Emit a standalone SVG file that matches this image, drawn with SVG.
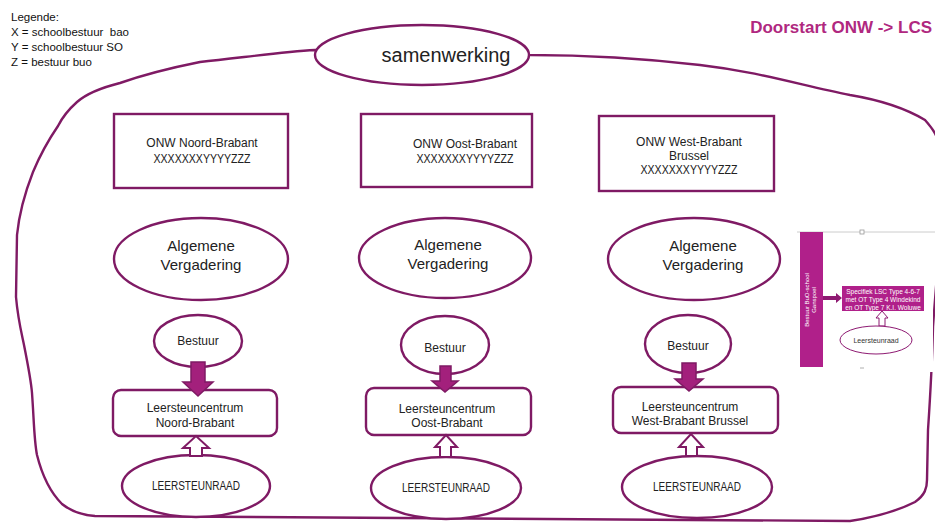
<svg xmlns="http://www.w3.org/2000/svg" width="935" height="523" viewBox="0 0 935 523">
<style>
.ol{fill:#fff;stroke:#7f1a64;stroke-width:2.4}
.t{font-family:"Liberation Sans",Arial,sans-serif;font-size:12px;fill:#222;text-anchor:middle}
.big{font-size:15px}
.sw{font-size:20px}
.lg{font-family:"Liberation Sans",Arial,sans-serif;font-size:11.5px;fill:#111}
.fa{fill:#a3207c;stroke:#7f1a64;stroke-width:1.5}
.ha{fill:#fff;stroke:#7f1a64;stroke-width:2}
.w{font-family:"Liberation Sans",Arial,sans-serif;fill:#fff;text-anchor:middle}
.w6{font-size:6px}
.w65{font-size:6.5px}
</style>
<rect width="935" height="523" fill="#fff"/>
<g id="blob">
<path d="M315,50 C280,52 240,58 200,62 C170,68 140,76 120,83 C100,88 85,95 77,102 C68,110 62,118 58,126 C45,145 38,160 33,172 C24,195 19,215 17,235 L16,297 C18,320 22,335 24,345 C28,365 31,380 32,393 C34,420 34,440 37,455 C42,475 50,492 62,504 C72,512 82,515 95,516 L400,518 L850,521 C870,518 895,512 915,502 C925,495 927,488 927,480 L928,430 C930,400 932,370 933,327 C936,280 945,200 940,150 C938,135 932,128 925,120 C905,108 880,100 850,95 C800,85 760,72 700,65 C640,58 580,55 530,55 Z" fill="none" stroke="#7f1a64" stroke-width="2.4"/>
</g>
<g id="legend">
<text class="lg" x="11" y="21">Legende:</text>
<text class="lg" x="11" y="36" xml:space="preserve">X = schoolbestuur  bao</text>
<text class="lg" x="11" y="51">Y = schoolbestuur SO</text>
<text class="lg" x="11" y="66">Z = bestuur buo</text>
</g>
<g id="title">
<text x="932" y="33" font-family="'Liberation Sans',Arial,sans-serif" font-size="17" font-weight="bold" fill="#b0287f" text-anchor="end">Doorstart ONW -&gt; LCS</text>
</g>
<g id="samenwerking">
<ellipse class="ol" cx="422" cy="55" rx="107" ry="30"/>
<text class="t sw" x="446" y="62">samenwerking</text>
</g>
<g id="onw-noord">
<rect class="ol" x="114" y="114" width="174" height="74"/>
<text class="t" x="202" y="147">ONW Noord-Brabant</text>
<text class="t" x="202" y="163" textLength="97" lengthAdjust="spacingAndGlyphs">XXXXXXXYYYYZZZ</text>
</g>
<g id="onw-oost">
<rect class="ol" x="361" y="114" width="171" height="73"/>
<text class="t" x="465" y="148">ONW Oost-Brabant</text>
<text class="t" x="465" y="163" textLength="97" lengthAdjust="spacingAndGlyphs">XXXXXXXYYYYZZZ</text>
</g>
<g id="onw-west">
<rect class="ol" x="599" y="116" width="175" height="75"/>
<text class="t" x="689" y="146">ONW West-Brabant</text>
<text class="t" x="689" y="160">Brussel</text>
<text class="t" x="689" y="174" textLength="97" lengthAdjust="spacingAndGlyphs">XXXXXXXYYYYZZZ</text>
</g>
<g id="av-noord">
<ellipse class="ol" cx="201" cy="259" rx="87" ry="41"/>
<text class="t big" x="201" y="251">Algemene</text>
<text class="t big" x="201" y="270">Vergadering</text>
</g>
<g id="av-oost">
<ellipse class="ol" cx="445" cy="258" rx="86" ry="40"/>
<text class="t big" x="448" y="250">Algemene</text>
<text class="t big" x="448" y="269">Vergadering</text>
</g>
<g id="av-west">
<ellipse class="ol" cx="694" cy="259" rx="86" ry="41"/>
<text class="t big" x="703" y="251">Algemene</text>
<text class="t big" x="703" y="270">Vergadering</text>
</g>
<g id="bestuur-noord">
<ellipse class="ol" cx="198" cy="341" rx="44" ry="26"/>
<text class="t" x="198" y="345">Bestuur</text>
</g>
<g id="bestuur-oost">
<ellipse class="ol" cx="445" cy="345" rx="44" ry="29"/>
<text class="t" x="445" y="352">Bestuur</text>
</g>
<g id="bestuur-west">
<ellipse class="ol" cx="688" cy="344" rx="43" ry="29"/>
<text class="t" x="688" y="350">Bestuur</text>
</g>
<g id="lsc-noord">
<rect class="ol" x="113" y="390" width="164" height="46" rx="8"/>
<text class="t" x="195" y="412">Leersteuncentrum</text>
<text class="t" x="195" y="427">Noord-Brabant</text>
</g>
<g id="lsc-oost">
<rect class="ol" x="366" y="388" width="165" height="47" rx="8"/>
<text class="t" x="447" y="413">Leersteuncentrum</text>
<text class="t" x="447" y="427">Oost-Brabant</text>
</g>
<g id="lsc-west">
<rect class="ol" x="613" y="387" width="165" height="46" rx="8"/>
<text class="t" x="690" y="411">Leersteuncentrum</text>
<text class="t" x="690" y="425">West-Brabant Brussel</text>
</g>
<g id="lr-noord">
<ellipse class="ol" cx="196" cy="486" rx="74" ry="31"/>
<text class="t" x="196" y="490" textLength="88" lengthAdjust="spacingAndGlyphs">LEERSTEUNRAAD</text>
</g>
<g id="lr-oost">
<ellipse class="ol" cx="446" cy="488" rx="75" ry="31"/>
<text class="t" x="446" y="492" textLength="88" lengthAdjust="spacingAndGlyphs">LEERSTEUNRAAD</text>
</g>
<g id="lr-west">
<ellipse class="ol" cx="697" cy="487" rx="75" ry="31"/>
<text class="t" x="697" y="491" textLength="88" lengthAdjust="spacingAndGlyphs">LEERSTEUNRAAD</text>
</g>
<g id="connectors">
<path class="fa" d="M191,362 H205 V382 H213 L198,396 L183,382 H191 Z"/>
<path class="fa" d="M440,366 H451 V381 H458 L445,392 L432,381 H440 Z"/>
<path class="fa" d="M682,363 H696 V379 H703 L689,391 L675,379 H682 Z"/>
<path class="ha" d="M190,456 V448 H183 L196,436 L209,448 H202 V456 Z"/>
<path class="ha" d="M440,457 V447 H435 L446,435 L457,447 H451 V457 Z"/>
<path class="ha" d="M686,456 V447 H679 L691,434 L703,447 H697 V456 Z"/>
</g>
<g id="inset">
<rect x="795" y="226" width="138" height="146" fill="#fff"/>
<line x1="797" y1="232" x2="935" y2="232" stroke="#ccc" stroke-width="1"/>
<rect x="860" y="230" width="4" height="4" fill="#fff" stroke="#999" stroke-width="0.8"/>
<rect x="800" y="232" width="23" height="135" fill="#b0208a"/>
<text class="w w6" transform="translate(809,300) rotate(-90)">Bestuur BuO-school</text>
<text class="w w6" transform="translate(816,300) rotate(-90)">Ganspoel</text>
<path d="M823,296 H836 V293 L842,298 L836,303 V300 H823 Z" fill="#8e1a72"/>
<rect x="842" y="286" width="82" height="25" fill="#b0208a"/>
<text class="w w65" x="883" y="294">Specifiek LSC Type 4-6-7</text>
<text class="w w65" x="883" y="302">met OT Type 4 Windekind</text>
<text class="w w65" x="883" y="309.5">en OT Type 7 K.I. Woluwe</text>
<path d="M879,326 V318 H876 L882,311 L888,318 H885 V326 Z" fill="#fff" stroke="#8e1a72" stroke-width="1"/>
<ellipse cx="876" cy="340" rx="36" ry="14" fill="#fff" stroke="#8e1a72" stroke-width="1"/>
<text x="876" y="343" font-family="'Liberation Sans',Arial,sans-serif" font-size="7" fill="#333" text-anchor="middle">Leersteunraad</text>
<line x1="860" y1="368" x2="864" y2="368" stroke="#999" stroke-width="0.8"/>
</g>
</svg>
